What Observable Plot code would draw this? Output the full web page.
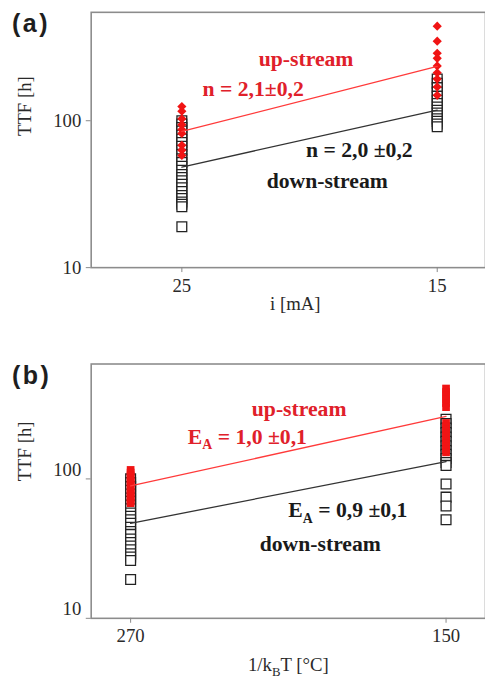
<!DOCTYPE html>
<html>
<head>
<meta charset="utf-8">
<script src="https://cdn.jsdelivr.net/npm/d3@7"></script>
<script src="https://cdn.jsdelivr.net/npm/@observablehq/plot@0.6"></script>
<style>
html, body { margin: 0; padding: 0; background: #fff; overflow: hidden; }
#wrap { position: relative; width: 485px; height: 687px; overflow: hidden; background: #fff; }
.panel { position: absolute; left: 0; z-index: 1; }
.tag { position: absolute; z-index: 5; left: 12px; font-family: "Liberation Sans", Arial, sans-serif; font-weight: bold; font-size: 25px; line-height: 25px; letter-spacing: 2.5px; color: #1e1e1e; }
</style>
</head>
<body>
<div id="wrap">
  <div class="panel" id="pa" style="top:0px"></div>
  <div class="panel" id="pb" style="top:330px"></div>
  <div class="tag" style="top:11px">(a)</div>
  <div class="tag" style="top:363px">(b)</div>
</div>
<script>
// ---------- Panel (a): TTF vs current ----------
const xTicksA = [25, 15];
const yTicks = [10, 100];
const downA25 = [100, 95, 90, 85, 80, 75, 71, 67, 63, 59, 55, 52, 49, 46, 43, 41, 39, 37, 35, 33, 31, 29.5, 28, 27, 26, 19];
const upA25 = [125, 116, 103, 94, 87, 82, 68, 63, 58];
const downA15 = [192, 180, 168, 157, 147, 138, 131, 124, 118, 113, 108, 103, 99, 95, 91];
const upA15 = [440, 348, 288, 266, 236, 212, 192, 170, 149];
const fitUpA = [84.5, 234];
const fitDownA = [48.4, 118];
const annotTextA = ["up-stream", "n = 2,1\u00b10,2", "n = 2,0 \u00b10,2", "down-stream"];
const annotXA = [21.99, 24.19, 20.14, 21.68];
const annotYA = [261, 164, 63, 39];
const annotUpA = [true, true, false, false];

// ---------- Panel (b): TTF vs temperature ----------
const xTicksB = [270, 150];
const downB270 = [100, 94, 88, 83, 78, 73, 69, 65, 61, 57, 54, 51, 48, 45, 42, 40, 37, 35, 33, 31, 29, 27.5, 26, 19];
const upB270 = [116, 111, 106, 101, 97, 93, 89, 85, 81, 78, 75, 72, 69, 67];
const downB150 = [268, 250, 232, 215, 200, 186, 173, 160, 150, 140, 131, 125, 92, 74, 64, 51];
const upB150 = [445, 420, 395, 372, 350, 327, 252, 238, 225, 212, 200, 190, 180, 171, 163, 155];
const fitUpB = [89, 281];
const fitDownB = [48, 133];
const annotTextB = ["up-stream", "E_A = 1,0 \u00b10,1", "E_A = 0,9 \u00b10,1", "down-stream"];
const annotXB = [223.9, 248.25, 210, 220.9];
const annotYB = [316, 201, 59.6, 34.3];
const annotUpB = [true, true, false, false];

const RED_TEXT = "#e0202a";
const RED_MARK = "#f01414";
const SERIF = "'Liberation Serif', 'Times New Roman', serif";

function panel(cfg) {
  const [xl, xr] = cfg.xTicks;
  const down = cfg.down1.map(y => ({x: xl, y})).concat(cfg.down2.map(y => ({x: xr, y})));
  const up = cfg.up1.map(y => ({x: xl, y})).concat(cfg.up2.map(y => ({x: xr, y})));
  const fitUp = cfg.fitUp.map((y, i) => ({x: cfg.xTicks[i], y}));
  const fitDown = cfg.fitDown.map((y, i) => ({x: cfg.xTicks[i], y}));
  const annots = cfg.annotText.map((t, i) => ({text: t, x: cfg.annotX[i], y: cfg.annotY[i], up: cfg.annotUp[i]}));

  const marks = [
    Plot.frame({stroke: "#8c8c8c", strokeWidth: 1.6}),
    Plot.axisX({ticks: cfg.xTicks, tickSize: 5, tickPadding: 6, tickFormat: d => String(d), stroke: "#888", fill: "#2a2a2a", label: null}),
  ];
  if (cfg.yLabelDy) {
    marks.push(Plot.axisY({ticks: yTicks, tickSize: 5, tickFormat: () => "", stroke: "#888", label: null}));
    marks.push(Plot.axisY({ticks: yTicks, tickSize: 0, tickPadding: 10, dy: cfg.yLabelDy, tickFormat: d => String(d), fill: "#2a2a2a", label: null}));
  } else {
    marks.push(Plot.axisY({ticks: yTicks, tickSize: 5, tickPadding: 5, tickFormat: d => String(d), stroke: "#888", fill: "#2a2a2a", label: null}));
  }
  marks.push(
    Plot.text(["TTF [h]"], {text: d => d, frameAnchor: "left", dx: -67, dy: cfg.yTitleDy, rotate: -90, fontSize: 19, fontFamily: SERIF, fill: "#2a2a2a"}),
    Plot.text([cfg.xTitle], {text: d => d, frameAnchor: "bottom", dx: cfg.xTitleDx, dy: cfg.xTitleDy, fontSize: 19, fontFamily: SERIF, fill: "#2a2a2a"}),
    Plot.dot(down, {x: "x", y: "y", symbol: "square", r: 5.6, fill: "white", stroke: "#222", strokeWidth: 1.3}),
    Plot.dot(up, {x: "x", y: "y", symbol: cfg.upSymbol, r: cfg.upR, fill: RED_MARK, stroke: "none"}),
    Plot.line(fitUp, {x: "x", y: "y", stroke: "#ff3a3a", strokeWidth: 1.3}),
    Plot.line(fitDown, {x: "x", y: "y", stroke: "#333", strokeWidth: 1.3})
  );
  for (const a of annots) {
    marks.push(Plot.text([a], {x: "x", y: "y", text: "text", textAnchor: "start", fontWeight: "bold", fontSize: 22, fontFamily: SERIF, fill: a.up ? RED_TEXT : "#1a1a1a"}));
  }

  const svg = Plot.plot({
    width: 492,
    height: cfg.height,
    marginLeft: 92,
    marginRight: 0,
    marginTop: cfg.mt,
    marginBottom: cfg.mb,
    style: {fontFamily: SERIF, fontSize: "19px", color: "#2a2a2a", background: "#fff", overflow: "visible"},
    x: {type: "linear", domain: cfg.xDomain},
    y: {type: "log", domain: cfg.yDomain},
    marks
  });

  // subscripts
  d3.select(svg).selectAll("text").each(function() {
    const t = this.textContent;
    if (t.startsWith("E_A")) {
      const rest = t.slice(3);
      const sel = d3.select(this);
      sel.text("");
      sel.append("tspan").text("E");
      sel.append("tspan").attr("font-size", 14).attr("dy", 6).text("A");
      sel.append("tspan").attr("dy", -6).text(rest);
    } else if (t.startsWith("1/k_B")) {
      const rest = t.slice(5);
      const sel = d3.select(this);
      sel.text("");
      sel.append("tspan").text("1/k");
      sel.append("tspan").attr("font-size", 13).attr("dy", 5).text("B");
      sel.append("tspan").attr("dy", -5).text(rest);
    }
  });
  return svg;
}

document.getElementById("pa").append(panel({
  xTicks: xTicksA, down1: downA25, down2: downA15, up1: upA25, up2: upA15,
  fitUp: fitUpA, fitDown: fitDownA,
  annotText: annotTextA, annotX: annotXA, annotY: annotYA, annotUp: annotUpA,
  height: 330, mt: 12, mb: 59,
  xDomain: [28.55, 13.11], yDomain: [10, 547],
  xTitle: "i [mA]", xTitleDx: 7, xTitleDy: 43, yTitleDy: -4, yLabelDy: 0,
  upSymbol: "diamond2", upR: 4.2
}));

document.getElementById("pb").append(panel({
  xTicks: xTicksB, down1: downB270, down2: downB150, up1: upB270, up2: upB150,
  fitUp: fitUpB, fitDown: fitDownB,
  annotText: annotTextB, annotX: annotXB, annotY: annotYB, annotUp: annotUpB,
  height: 357, mt: 34, mb: 65,
  xDomain: [285, 135], yDomain: [10, 667],
  xTitle: "1/k_BT [\u00b0C]", xTitleDx: 0, xTitleDy: 53, yTitleDy: -10, yLabelDy: -9,
  upSymbol: "square", upR: 4.4
}));
</script>
</body>
</html>
